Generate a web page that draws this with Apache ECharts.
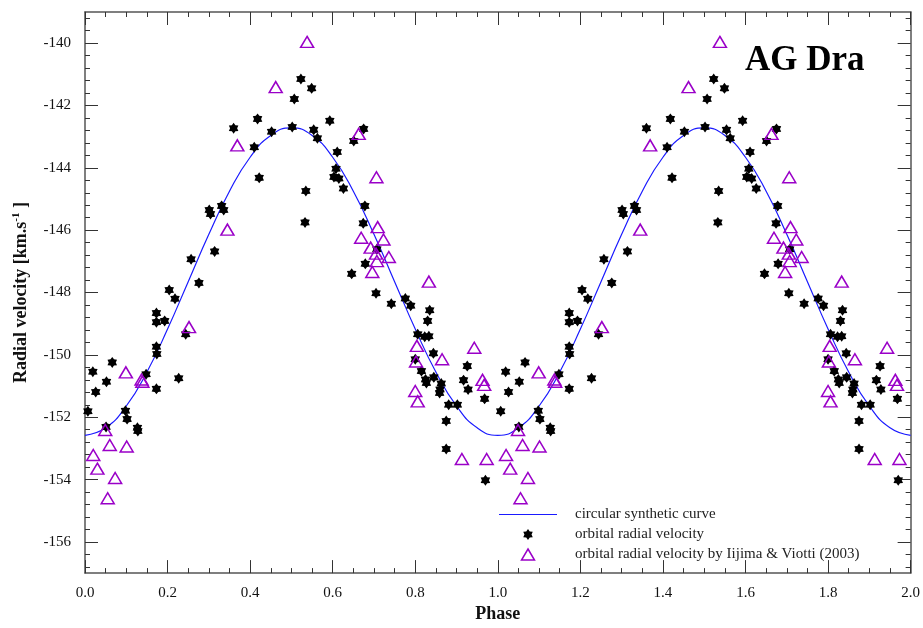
<!DOCTYPE html>
<html>
<head>
<meta charset="utf-8">
<title>AG Dra</title>
<script src="https://cdn.jsdelivr.net/npm/echarts@6.0.0/dist/echarts.min.js"></script>
<style>
	html, body { margin: 0; padding: 0; background: #fff; }
	#Charts { width: 923px; height: 628px; }
</style>
</head>
<body>
<div id="Charts"></div>
<script>
// one orbital cycle, drawn twice (phase and phase + 1)
var starPhase = [0.007, 0.019, 0.026, 0.051, 0.052, 0.066, 0.098, 0.102, 0.127, 0.128,
	0.148, 0.173, 0.173, 0.193, 0.173, 0.174, 0.173, 0.204, 0.218, 0.227,
	0.244, 0.257, 0.276, 0.301, 0.304, 0.314, 0.331, 0.336, 0.360, 0.410,
	0.418, 0.422, 0.452, 0.502, 0.507, 0.523, 0.533, 0.535, 0.549, 0.554,
	0.563, 0.593, 0.603, 0.608, 0.611, 0.615, 0.626, 0.646, 0.651, 0.674,
	0.675, 0.678, 0.679, 0.705, 0.707, 0.742, 0.776, 0.789, 0.800, 0.806,
	0.815, 0.823, 0.825, 0.827, 0.830, 0.833, 0.835, 0.844, 0.845, 0.859,
	0.860, 0.863, 0.875, 0.875, 0.881, 0.902, 0.917, 0.926, 0.928, 0.968, 0.970]
var starVel = [-151.81, -150.54, -151.19, -152.31, -150.86, -150.24, -151.79, -152.06, -152.34, -152.44,
	-150.62, -148.66, -148.95, -148.91, -149.74, -149.97, -151.09, -147.92, -148.20, -150.75,
	-149.34, -146.93, -147.69, -145.35, -145.48, -146.68, -145.22, -145.35, -142.73, -143.34,
	-142.43, -144.32, -142.84, -142.69, -141.79, -141.15, -145.75, -144.74, -141.45, -142.78,
	-143.05, -142.49, -144.29, -144.03, -143.49, -144.34, -144.66, -147.40, -143.14, -145.78,
	-142.75, -145.22, -147.08, -148.02, -146.61, -148.36, -148.19, -148.42, -150.14, -149.34,
	-150.52, -149.42, -150.79, -150.90, -148.91, -149.40, -148.57, -149.95, -150.72, -151.22,
	-151.11, -150.92, -152.12, -153.02, -151.60, -151.60, -150.81, -150.36, -151.11, -151.41, -154.02]

// Iijima & Viotti (2003)
var triPhase = [0.020, 0.030, 0.049, 0.055, 0.060, 0.073, 0.099, 0.101, 0.137, 0.139,
	0.252, 0.345, 0.369, 0.462, 0.538, 0.663, 0.669, 0.692, 0.696, 0.705,
	0.706, 0.707, 0.709, 0.723, 0.736, 0.800, 0.802, 0.804, 0.806, 0.833,
	0.865, 0.913, 0.943, 0.963, 0.967, 0.973]
var triVel = [-153.21, -153.65, -152.41, -154.60, -152.89, -153.95, -150.56, -152.94, -150.79, -150.86,
	-149.11, -145.98, -143.28, -141.41, -139.96, -142.91, -146.24, -146.56, -147.34, -146.75,
	-144.30, -146.99, -145.90, -146.30, -146.86, -151.16, -150.21, -149.71, -151.49, -147.65,
	-150.14, -153.34, -149.77, -150.80, -150.96, -153.34]

// synthetic curve, read every 0.05 in phase
var curvePhase = [0, 0.05, 0.1, 0.15, 0.2, 0.25, 0.3, 0.35, 0.4, 0.45, 0.5,
	0.55, 0.6, 0.65, 0.7, 0.75, 0.8, 0.85, 0.9, 0.95, 1.0]
var curveVel = [-152.58, -152.34, -151.64, -150.55, -149.17, -147.65, -146.13, -144.75, -143.66, -142.96, -142.72,
	-142.96, -143.66, -144.75, -146.13, -147.65, -149.17, -150.55, -151.64, -152.34, -152.58]

var yMajor = [-156, -154, -152, -150, -148, -146, -144, -142, -140]
var yMinor = []
for (var t = -156.8; t < -139; t += 0.4) {
	var r = Math.round(t * 10) / 10
	if (Math.abs(r) % 2 != 0) yMinor.push(r)
}

function twoCycles(ph, vel) {
	var out = []
	for (var c = 0; c < 2; c++) {
		for (var i = 0; i < ph.length; i++) {
			if (c == 1 && i == 0 && ph === curvePhase) continue
			out.push([ph[i] + c, vel[i]])
		}
	}
	return out
}

var FONT = 'Liberation Serif'
var PURPLE = '#9a00c8'
var starPath = 'path://M0,-10L3.2,-5.54L8.66,-5L6.4,0L8.66,5L3.2,5.54L0,10L-3.2,5.54L-8.66,5L-6.4,0L-8.66,-5L-3.2,-5.54Z'

var chart = echarts.init(document.getElementById("Charts"));

var xCommon = {
	type: 'value',
	min: 0,
	max: 2,
	interval: 0.2,
	axisLine: { show: true, lineStyle: { color: '#555', width: 1.5 } },
	axisTick: { show: true, inside: true, length: 13, lineStyle: { color: '#333', width: 1 } },
	minorTick: { show: true, splitNumber: 4, length: 5, lineStyle: { color: '#333', width: 1 } },
	splitLine: { show: false },
	minorSplitLine: { show: false }
}

var option = {
	backgroundColor: '#FFFFFF',
	animation: false,
	title: {
		text: 'AG Dra',
		left: 745,
		top: 43,
		padding: 0,
		textStyle: { fontFamily: FONT, fontWeight: 'bold', fontSize: 35, color: '#000' }
	},
	legend: {
		orient: 'vertical',
		left: 494,
		top: 502,
		itemWidth: 58,
		itemHeight: 11,
		itemGap: 5,
		selectedMode: false,
		textStyle: { fontFamily: FONT, fontSize: 15, color: '#222', lineHeight: 15, padding: [0, 0, 0, 13] },
		data: [
			{ name: 'circular synthetic curve', icon: 'path://M0,0L58,0L58,1.2L0,1.2Z', itemStyle: { color: '#1a1aff' } },
			{ name: 'orbital radial velocity', itemStyle: { color: '#000', opacity: 1 } },
			{ name: 'orbital radial velocity by Iijima & Viotti (2003)', icon: 'path://M6.5,0L13,11L0,11Z',
				itemStyle: { color: 'rgba(0,0,0,0)', borderColor: PURPLE, borderWidth: 1.5, opacity: 1 } }
		]
	},
	grid: { left: 85, right: 11, top: 12, bottom: 50 },
	xAxis: [
		Object.assign({}, xCommon, {
			position: 'bottom',
			name: 'Phase',
			nameLocation: 'middle',
			nameGap: 30,
			nameTextStyle: { fontFamily: FONT, fontWeight: 'bold', fontSize: 18, color: '#111' },
			axisLabel: { fontFamily: FONT, fontSize: 15, color: '#111', margin: 12, formatter: function(v) { return v.toFixed(1) } }
		}),
		Object.assign({}, xCommon, { position: 'top', axisLabel: { show: false } })
	],
	yAxis: [
		{
			type: 'value', position: 'left', min: -157, max: -139,
			name: '{a|Radial velocity [km.s}{s|-1}{a| ]}',
			nameLocation: 'middle',
			nameGap: 54,
			nameTextStyle: {
				rich: {
					a: { fontFamily: FONT, fontWeight: 'bold', fontSize: 18, color: '#111', lineHeight: 20 },
					s: { fontFamily: FONT, fontWeight: 'bold', fontSize: 11, color: '#111', lineHeight: 20, verticalAlign: 'top', padding: [0, 0, 8, 0] }
				}
			},
			axisLine: { show: true, lineStyle: { color: '#555', width: 1.5 } },
			axisTick: { show: true, inside: true, length: 13, customValues: yMajor, lineStyle: { color: '#333', width: 1 } },
			axisLabel: { fontFamily: FONT, fontSize: 15, color: '#111', margin: 14, customValues: yMajor },
			splitLine: { show: false }
		},
		{
			type: 'value', position: 'left', min: -157, max: -139,
			axisLine: { show: false },
			axisTick: { show: true, inside: true, length: 5, customValues: yMinor, lineStyle: { color: '#333', width: 1 } },
			axisLabel: { show: false },
			splitLine: { show: false }
		},
		{
			type: 'value', position: 'right', min: -157, max: -139,
			axisLine: { show: true, lineStyle: { color: '#555', width: 1.5 } },
			axisTick: { show: true, inside: true, length: 13, customValues: yMajor, lineStyle: { color: '#333', width: 1 } },
			axisLabel: { show: false },
			splitLine: { show: false }
		},
		{
			type: 'value', position: 'right', min: -157, max: -139,
			axisLine: { show: false },
			axisTick: { show: true, inside: true, length: 5, customValues: yMinor, lineStyle: { color: '#333', width: 1 } },
			axisLabel: { show: false },
			splitLine: { show: false }
		}
	],
	series: [
		{
			name: 'circular synthetic curve',
			type: 'line',
			smooth: true,
			symbol: 'none',
			lineStyle: { color: '#1a1aff', width: 1.2 },
			itemStyle: { color: '#1a1aff' },
			data: twoCycles(curvePhase, curveVel),
			z: 2
		},
		{
			name: 'orbital radial velocity',
			type: 'scatter',
			symbol: starPath,
			symbolKeepAspect: true,
			symbolSize: 11,
			itemStyle: { color: '#000', opacity: 1 },
			data: twoCycles(starPhase, starVel),
			z: 3
		},
		{
			name: 'orbital radial velocity by Iijima & Viotti (2003)',
			type: 'scatter',
			symbol: 'triangle',
			symbolSize: [13, 11],
			itemStyle: { color: 'rgba(0,0,0,0)', borderColor: PURPLE, borderWidth: 1.5, opacity: 1 },
			data: twoCycles(triPhase, triVel),
			z: 4
		}
	]
};

chart.setOption(option);
</script>
</body>
</html>
